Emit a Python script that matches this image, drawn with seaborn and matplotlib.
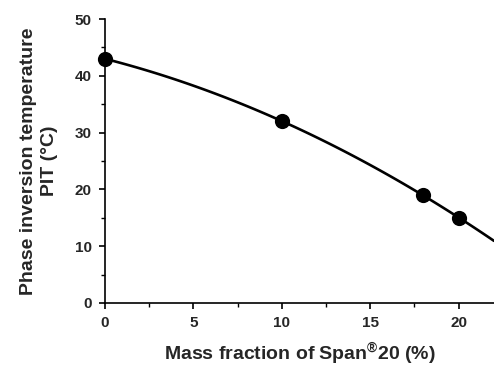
import matplotlib
matplotlib.use("Agg")
import matplotlib.pyplot as plt
import seaborn as sns
import numpy as np
from matplotlib.ticker import MultipleLocator

mass_fraction = [0, 10, 18, 20]
pit = [43, 32, 19, 15]

sns.set_theme(style="ticks")
plt.rcParams['font.family'] = ['Liberation Sans', 'DejaVu Sans']
plt.rcParams['font.weight'] = 'bold'
plt.rcParams['mathtext.fontset'] = 'custom'
plt.rcParams['mathtext.rm'] = 'Liberation Sans:bold'
plt.rcParams['mathtext.it'] = 'Liberation Sans:bold'
plt.rcParams['mathtext.bf'] = 'Liberation Sans:bold'

fig = plt.figure(figsize=(4.94, 3.67), dpi=100)
ax = fig.add_axes([0.2126, 0.1744, 0.7874, 0.7738])
ax.set_xlim(0, 22)
ax.set_ylim(0, 50)

sns.regplot(x=mass_fraction, y=pit, order=2, ci=None, truncate=False, ax=ax,
            scatter_kws=dict(s=120, color='black', alpha=1, zorder=3, linewidths=0, clip_on=False),
            line_kws=dict(color='black', lw=1.9))

ax.set_xlim(0, 22)
ax.set_ylim(0, 50)
ax.xaxis.set_major_locator(MultipleLocator(5))
ax.xaxis.set_minor_locator(MultipleLocator(2.5))
ax.yaxis.set_major_locator(MultipleLocator(10))
ax.yaxis.set_minor_locator(MultipleLocator(5))
for s in ['top', 'right']:
    ax.spines[s].set_visible(False)
for s in ['left', 'bottom']:
    ax.spines[s].set_linewidth(1.2)
    ax.spines[s].set_color('black')
ax.tick_params(which='major', length=4.5, width=1.2, color='black', labelsize=11, pad=5)
ax.tick_params(which='minor', length=3, width=1.0, color='black')
for lab in ax.get_xticklabels() + ax.get_yticklabels():
    lab.set_fontweight('bold')

ax.set_xlabel('Mass fraction of Span$^{®}$20 (%)', fontsize=14, fontweight='bold', labelpad=8)
ax.set_ylabel('Phase inversion temperature\nPIT (°C)', fontsize=14, fontweight='bold', labelpad=12, linespacing=1.3)

fig.savefig('out.png', dpi=100)
